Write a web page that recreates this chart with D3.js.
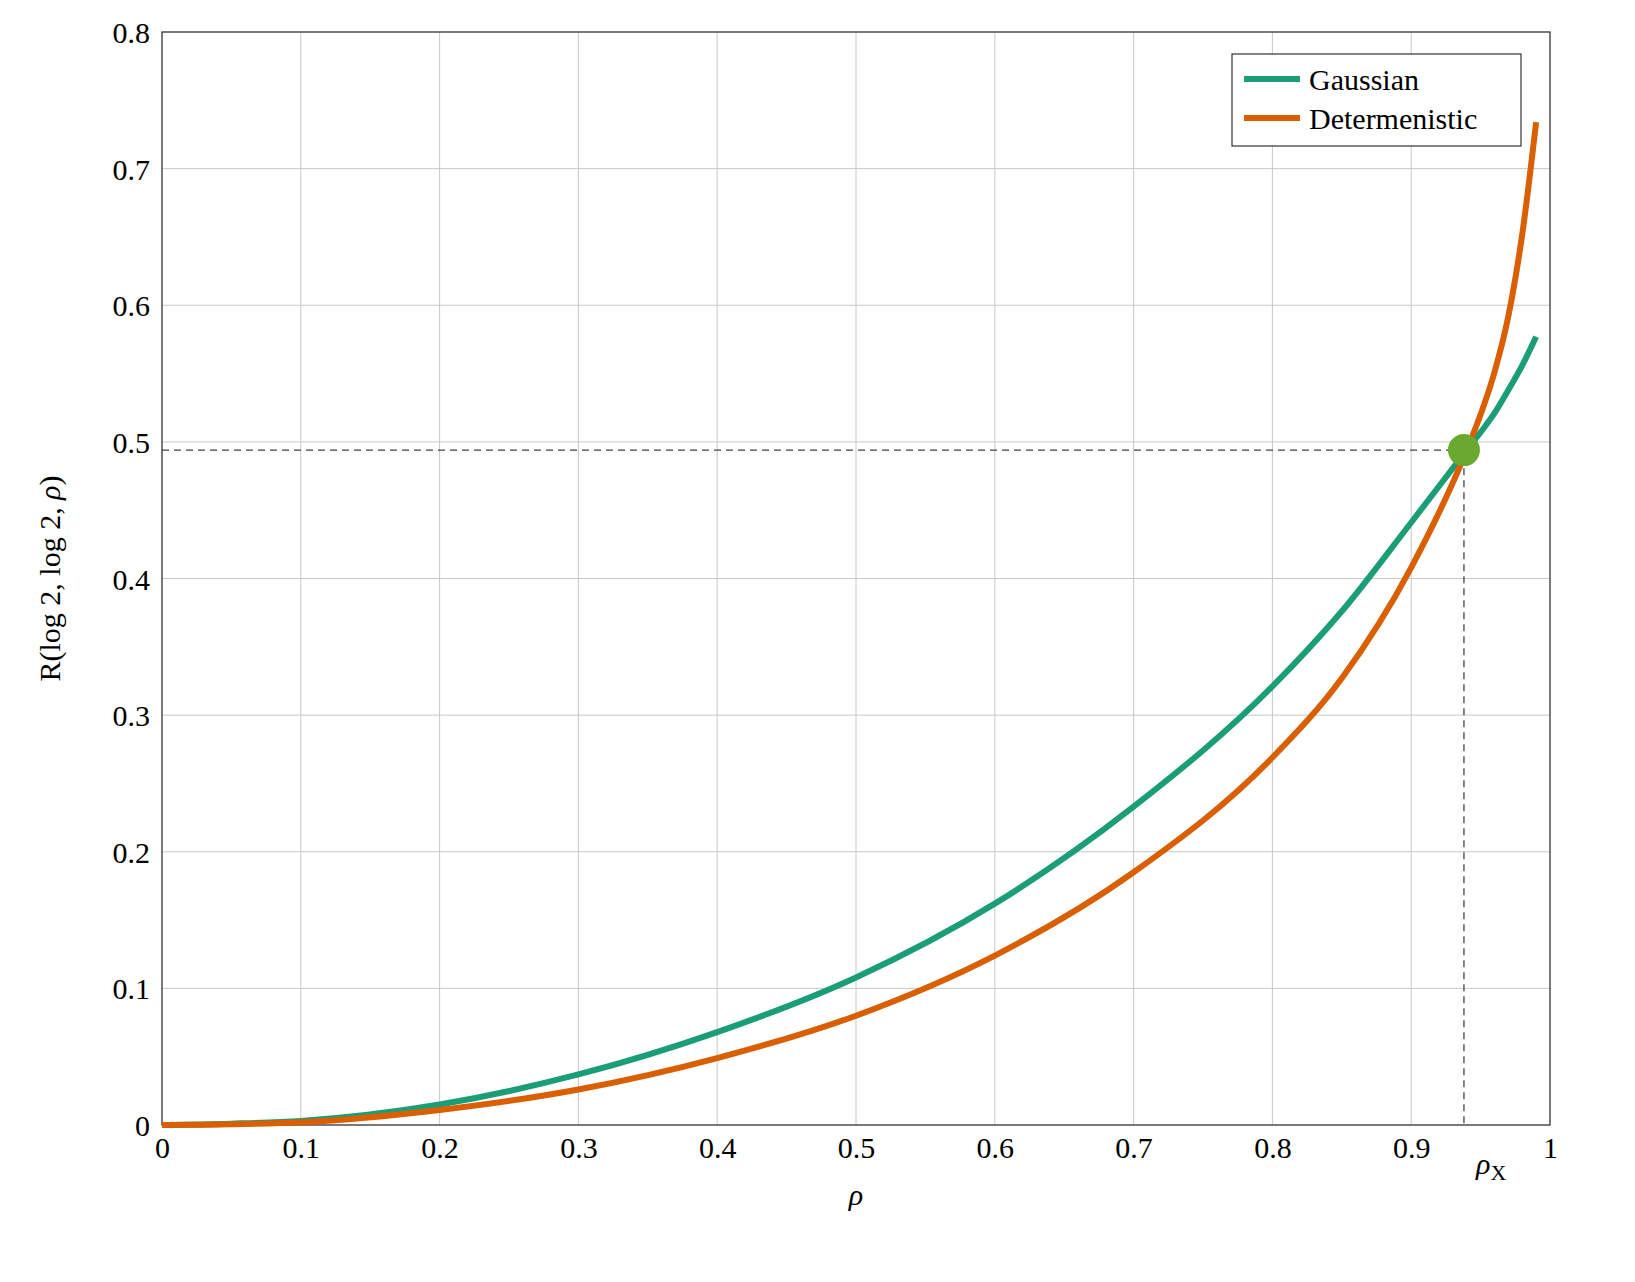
<!DOCTYPE html>
<html><head><meta charset="utf-8">
<script src="https://cdn.jsdelivr.net/npm/d3@7"></script>
<style>body{margin:0;background:#fff}text{font-family:"Liberation Serif",serif;fill:#000}</style>
</head><body><svg id="c" width="1635" height="1282"></svg>
<script>
const rho = [0, 0.05, 0.1, 0.2, 0.3, 0.4, 0.5, 0.6, 0.7, 0.8, 0.85, 0.9, 0.94, 0.95, 0.96, 0.97, 0.98, 0.99];
const gaussian = [0, 0.001, 0.003, 0.015, 0.037, 0.068, 0.108, 0.162, 0.233, 0.321, 0.376, 0.441, 0.494, 0.507, 0.521, 0.538, 0.556, 0.577];
const deterministic = [0, 0.0005, 0.002, 0.011, 0.026, 0.049, 0.080, 0.124, 0.185, 0.269, 0.327, 0.408, 0.494, 0.520, 0.551, 0.592, 0.652, 0.734];
const xTicks = [0, 0.1, 0.2, 0.3, 0.4, 0.5, 0.6, 0.7, 0.8, 0.9, 1];
const yTicks = [0, 0.1, 0.2, 0.3, 0.4, 0.5, 0.6, 0.7, 0.8];
const cross = {x: 0.938, y: 0.494};

const svg = d3.select("#c");
const x = d3.scaleLinear().domain([0, 1]).range([162, 1550]);
const y = d3.scaleLinear().domain([0, 0.8]).range([1125, 32]);

// grid
svg.append("g").selectAll("line").data(xTicks).join("line")
  .attr("x1", d => x(d)).attr("x2", d => x(d)).attr("y1", y(0)).attr("y2", y(0.8))
  .attr("stroke", "#c8c8c8").attr("stroke-width", 1);
svg.append("g").selectAll("line").data(yTicks).join("line")
  .attr("y1", d => y(d)).attr("y2", d => y(d)).attr("x1", x(0)).attr("x2", x(1))
  .attr("stroke", "#c8c8c8").attr("stroke-width", 1);

// axes
const fmt = d => d === 0 ? "0" : d === 1 ? "1" : d3.format(".1f")(d);
const xa = svg.append("g").attr("transform", `translate(0,${y(0)})`)
  .call(d3.axisBottom(x).tickValues(xTicks).tickFormat(fmt).tickSize(0).tickPadding(12));
const ya = svg.append("g").attr("transform", `translate(${x(0)},0)`)
  .call(d3.axisLeft(y).tickValues(yTicks).tickFormat(fmt).tickSize(0).tickPadding(12));
[xa, ya].forEach(a => { a.select(".domain").remove(); a.selectAll("text").attr("font-size", 30).attr("font-family", "Liberation Serif"); });
ya.selectAll("text").attr("dy", "0.35em");
svg.append("rect").attr("x", x(0)).attr("y", y(0.8)).attr("width", x(1) - x(0)).attr("height", y(0) - y(0.8))
  .attr("fill", "none").attr("stroke", "#333").attr("stroke-width", 1.2);

// dashed guides
svg.append("path").attr("d", `M${x(0)},${y(cross.y)}H${x(cross.x)}V${y(0)}`)
  .attr("fill", "none").attr("stroke", "#444").attr("stroke-width", 1.3).attr("stroke-dasharray", "7,5");

const line = vals => d3.line().x((d, i) => x(rho[i])).y(d => y(d)).curve(d3.curveMonotoneX)(vals);
svg.append("path").attr("d", line(gaussian)).attr("fill", "none").attr("stroke", "#1b9e77").attr("stroke-width", 6);
svg.append("path").attr("d", line(deterministic)).attr("fill", "none").attr("stroke", "#d95f02").attr("stroke-width", 6);
svg.append("circle").attr("cx", x(cross.x)).attr("cy", y(cross.y)).attr("r", 16).attr("fill", "#6aa82f");

// labels
svg.append("text").attr("x", x(0.5)).attr("y", 1205).attr("text-anchor", "middle").attr("font-size", 30).attr("font-style", "italic").text("ρ");
svg.append("text").attr("x", 1476).attr("y", 1174).attr("font-size", 30).attr("font-style", "italic").text("ρ")
  .append("tspan").attr("font-style", "normal").attr("font-size", 22).attr("dy", 6).text("X");
const yl = svg.append("text").attr("transform", `translate(60,${y(0.4)}) rotate(-90)`).attr("text-anchor", "middle").attr("font-size", 30);
yl.append("tspan").text("R(log 2, log 2, ");
yl.append("tspan").attr("font-style", "italic").text("ρ");
yl.append("tspan").text(")");

// legend
const lg = svg.append("g").attr("transform", "translate(1232,54)");
lg.append("rect").attr("width", 289).attr("height", 92).attr("fill", "#fff").attr("stroke", "#333").attr("stroke-width", 1.2);
[["Gaussian", "#1b9e77"], ["Determenistic", "#d95f02"]].forEach(([n, c], i) => {
  const yy = 25 + i * 39;
  lg.append("line").attr("x1", 12).attr("x2", 68).attr("y1", yy).attr("y2", yy).attr("stroke", c).attr("stroke-width", 6);
  lg.append("text").attr("x", 77).attr("y", yy).attr("dy", "0.35em").attr("font-size", 30).text(n);
});
</script></body></html>
